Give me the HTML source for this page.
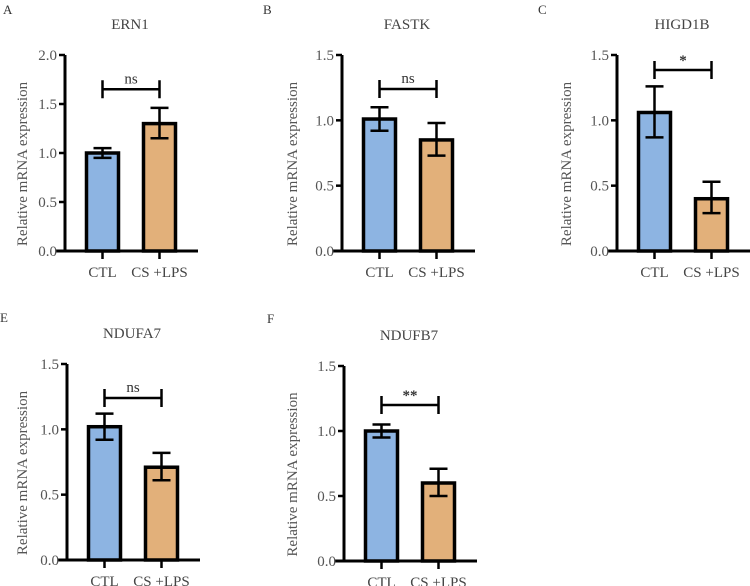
<!DOCTYPE html>
<html><head><meta charset="utf-8"><style>
body{margin:0;background:#fff;}
svg{display:block;font-family:"Liberation Serif",serif;}
</style></head><body>
<svg id="fig" width="750" height="586" viewBox="0 0 750 586"></svg>
<script>
const genes = ["ERN1","FASTK","HIGD1B","NDUFA7","NDUFB7"];
const letters = ["A","B","C","E","F"];
const categories = ["CTL","CS +LPS"];
const ctlMean = [1.0,1.01,1.06,1.02,1.0];
const ctlLo = [0.95,0.92,0.87,0.92,0.95];
const ctlHi = [1.05,1.10,1.26,1.12,1.05];
const lpsMean = [1.3,0.85,0.40,0.71,0.60];
const lpsLo = [1.15,0.73,0.29,0.61,0.50];
const lpsHi = [1.46,0.98,0.53,0.82,0.71];
const yMax = [2.0,1.5,1.5,1.5,1.5];
const tickLabels = [["0.0","0.5","1.0","1.5","2.0"],["0.0","0.5","1.0","1.5"],["0.0","0.5","1.0","1.5"],["0.0","0.5","1.0","1.5"],["0.0","0.5","1.0","1.5"]];
const sigLabel = ["ns","ns","*","ns","**"];
const sigLevel = [1.65,1.24,1.385,1.24,1.2];

const layout = [
 {x0:65,yT:55,yB:251,lx:3,ly:14,ytx:22},
 {x0:342,yT:55,yB:251,lx:263,ly:14,ytx:292},
 {x0:617,yT:55,yB:251,lx:538,ly:14,ytx:566},
 {x0:67,yT:364,yB:560,lx:0,ly:322,ytx:22},
 {x0:344,yT:366,yB:561,lx:267,ly:323,ytx:292}
];
const svg=document.getElementById('fig');
const NS="http://www.w3.org/2000/svg";
function mk(tag,attrs,parent,txt){const e=document.createElementNS(NS,tag);for(const k in attrs)e.setAttribute(k,attrs[k]);if(txt!==undefined)e.textContent=txt;parent.appendChild(e);return e;}
const fills=["#8db4e2","#e2b07a"];
genes.forEach((g,i)=>{
  const L=layout[i];
  const grp=mk('g',{},svg);
  
  
  const y=v=>L.yB-(v/yMax[i])*(L.yB-L.yT);
  const x0=L.x0;
  const t1=mk('text',{x:L.lx,y:L.ly,'font-size':13,fill:'#333'},grp,letters[i]);
  
  
  const t2=mk('text',{x:x0+65,y:L.yT-26,'font-size':15,fill:'#444','text-anchor':'middle'},grp,g);
  
  
  const yt=mk('text',{x:0,y:0,'font-size':15,fill:'#555','text-anchor':'middle',transform:`translate(${L.ytx+5},${(L.yT+L.yB)/2+11}) rotate(-90)`},grp,'Relative mRNA expression');
  
  
  const means=[ctlMean[i],lpsMean[i]],los=[ctlLo[i],lpsLo[i]],his=[ctlHi[i],lpsHi[i]];
  const bx=[x0+20,x0+77];
  means.forEach((m,j)=>{
    const b=mk('rect',{x:bx[j]+1.5,y:y(m),width:32,height:L.yB-y(m),fill:fills[j],stroke:'#000','stroke-width':3.5},grp);
    
    
    const cx=bx[j]+17.5;
    const e=mk('path',{d:`M${cx},${y(los[j])}V${y(his[j])}M${cx-9},${y(los[j])}H${cx+9}M${cx-9},${y(his[j])}H${cx+9}`,stroke:'#000','stroke-width':2.5,fill:'none'},grp);
    
    
    const tk=mk('line',{x1:cx,x2:cx,y1:L.yB,y2:L.yB+8,stroke:'#000','stroke-width':2.5},grp);
    
    
    const xl=mk('text',{x:cx,y:L.yB+26,'font-size':15,fill:'#444','text-anchor':'middle'},grp,categories[j]);
    
    
  });
  const ax=mk('path',{d:`M${x0},${L.yT}V${L.yB}M${x0-9},${L.yB}H${x0+133}`,stroke:'#000','stroke-width':3,fill:'none'},grp);
  
  
  tickLabels[i].forEach((tl,k)=>{
    const v=parseFloat(tl);
    const tm=mk('line',{x1:x0-6,x2:x0,y1:y(v),y2:y(v),stroke:'#000','stroke-width':2.5},grp);
    
    
    const tt=mk('text',{x:x0-8,y:y(v)+5,'font-size':15,fill:'#555','text-anchor':'end'},grp,tl);
    
    
  });
  const c1=bx[0]+17.5,c2=bx[1]+17.5,sy=y(sigLevel[i]);
  const sb=mk('path',{d:`M${c1},${sy-9}V${sy+9}M${c2},${sy-9}V${sy+9}M${c1},${sy}H${c2}`,stroke:'#000','stroke-width':2.5,fill:'none'},grp);
  
  
  const isStar=sigLabel[i].includes('*');
  const st=mk('text',{x:(c1+c2)/2,y:isStar?sy-5:sy-6,'font-size':isStar?15:15,fill:'#333','text-anchor':'middle','font-weight':isStar?'bold':'normal'},grp,sigLabel[i]);
  
  
});
</script>
</body></html>
